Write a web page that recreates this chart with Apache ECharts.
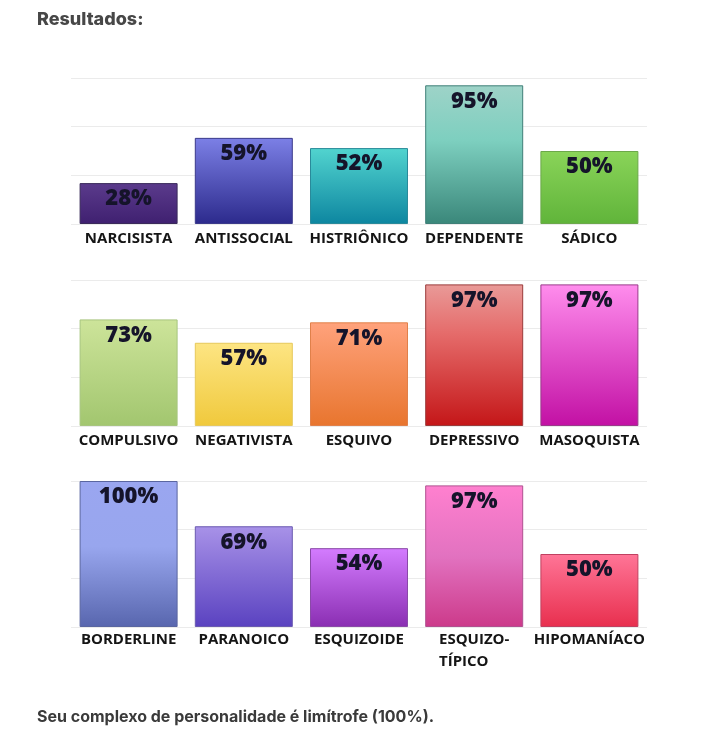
<!DOCTYPE html>
<html>
<head>
<meta charset="utf-8">
<script src="https://cdn.jsdelivr.net/npm/echarts@6/dist/echarts.min.js"></script>
<style>
html,body{margin:0;padding:0;background:#fff;}
#chart{width:720px;height:738px;}
</style>
</head>
<body>
<div id="chart"></div>
<script>
// ---- data ----
const row1Categories = ['NARCISISTA', 'ANTISSOCIAL', 'HISTRIÔNICO', 'DEPENDENTE', 'SÁDICO'];
const row1Values = [28, 59, 52, 95, 50];
const row2Categories = ['COMPULSIVO', 'NEGATIVISTA', 'ESQUIVO', 'DEPRESSIVO', 'MASOQUISTA'];
const row2Values = [73, 57, 71, 97, 97];
const row3Categories = ['BORDERLINE', 'PARANOICO', 'ESQUIZOIDE', 'ESQUIZO-\nTÍPICO', 'HIPOMANÍACO'];
const row3Values = [100, 69, 54, 97, 50];
const titleText = 'Resultados:';
const footerText = 'Seu complexo de personalidade é limítrofe (100%).';

// ---- styles ----
const row1Colors = [
  [['#5b3b8c',0],['#3f2070',1],'#3a2a5a'],
  [['#7c80e6',0],['#2c2a8c',1],'#3b3a8a'],
  [['#52d4cf',0],['#0d86a0',1],'#2a8a9a'],
  [['#9ed3c8',0],['#7dcfbf',0.4],['#3a877a',1],'#3f7f78'],
  [['#8ad459',0],['#60b43a',1],'#6ca84a']
];
const row2Colors = [
  [['#cde49a',0],['#a2c66f',1],'#a7c57e'],
  [['#fde583',0],['#f0c93c',1],'#e6c85a'],
  [['#ffa27c',0],['#e8752e',1],'#e0804a'],
  [['#e99a98',0],['#e56b6a',0.35],['#c41618',1],'#9a3a3a'],
  [['#ff8ded',0],['#c210a4',1],'#9a3a8a']
];
const row3Colors = [
  [['#9aa6f0',0],['#98a6ee',0.45],['#5866ae',1],'#5a66a0'],
  [['#a892e8',0],['#5a42c0',1],'#6a5ab0'],
  [['#d47cff',0],['#8a2eb2',1],'#8a4aa8'],
  [['#ff80cf',0],['#e272c0',0.5],['#cc3a8a',1],'#b05090'],
  [['#ff7597',0],['#e82f4e',1],'#c04060']
];

function grad(spec){
  const stops = spec.slice(0, spec.length-1).map(s => ({offset:s[1], color:s[0]}));
  return new echarts.graphic.LinearGradient(0,0,0,1,stops);
}

const rows = [
  {cats: row1Categories, vals: row1Values, cols: row1Colors, top: 78, margin: 4},
  {cats: row2Categories, vals: row2Values, cols: row2Colors, top: 280, margin: 4},
  {cats: row3Categories, vals: row3Values, cols: row3Colors, top: 481, margin: 2}
];

const FONT = '"Open Sans", "DejaVu Sans", sans-serif';

const option = {
  backgroundColor: '#ffffff',
  animation: false,
  title: [
    {text: titleText, left: 37, top: 11, padding: 0,
     textStyle: {fontFamily: 'Inter, "Open Sans", sans-serif', fontWeight: 800, fontSize: 18, color: '#474747'}},
    {text: footerText, left: 37, top: 709, padding: 0,
     textStyle: {fontFamily: 'Inter, "Open Sans", sans-serif', fontWeight: 700, fontSize: 16, color: '#3a3a3a'}}
  ],
  grid: rows.map(r => ({left: 71, right: 73, top: r.top, height: 146})),
  xAxis: rows.map((r, i) => ({
    type: 'category', gridIndex: i, data: r.cats,
    axisLine: {show: false}, axisTick: {show: false},
    axisLabel: {
      margin: r.margin, interval: 0,
      fontFamily: FONT, fontWeight: 700, fontSize: 15, color: '#151515', lineHeight: 22,
      formatter: v => v.indexOf('\n') >= 0 ? v.split('\n').map(s => '{l|' + s + '}').join('\n') : v,
      rich: {l: {align: 'left', fontFamily: FONT, fontWeight: 700, fontSize: 15, color: '#151515', lineHeight: 22}}
    }
  })),
  yAxis: rows.map((r, i) => ({
    type: 'value', gridIndex: i, min: 0, max: 100, interval: 100/3,
    axisLabel: {show: false}, axisLine: {show: false}, axisTick: {show: false},
    splitLine: {show: true, lineStyle: {color: '#ebebeb', width: 1}}
  })),
  series: rows.map((r, i) => ({
    type: 'bar', xAxisIndex: i, yAxisIndex: i, barWidth: 98,
    data: r.vals.map((v, j) => ({
      value: v,
      itemStyle: {color: grad(r.cols[j]), borderColor: r.cols[j][r.cols[j].length-1], borderWidth: 1}
    })),
    label: {
      show: true, position: 'insideTop', distance: 5,
      formatter: '{c}%',
      fontFamily: FONT, fontWeight: 800, fontSize: 22, color: '#15142a'
    }
  }))
};

const chart = echarts.init(document.getElementById('chart'), null, {renderer: 'canvas'});
chart.setOption(option);
</script>
</body>
</html>
